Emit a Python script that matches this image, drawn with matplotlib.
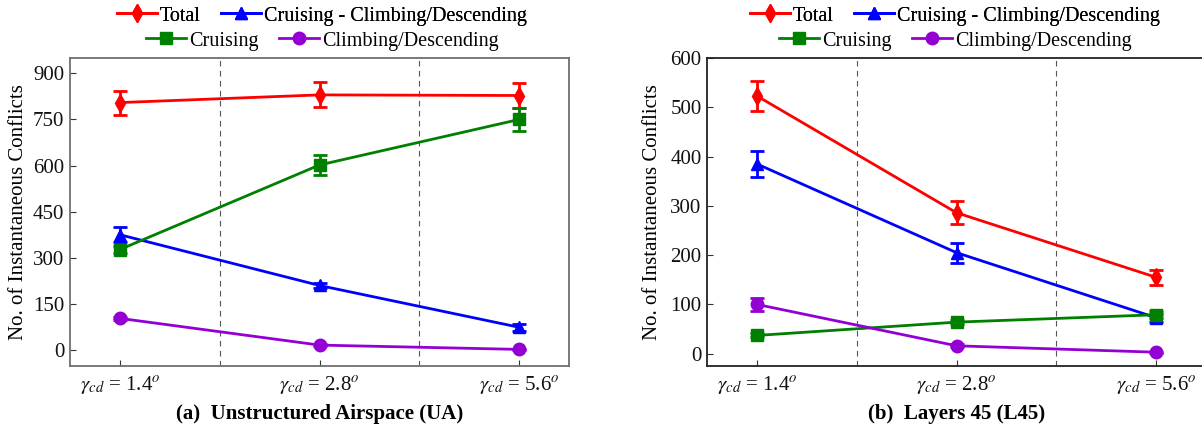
import matplotlib
matplotlib.use("Agg")
import matplotlib.pyplot as plt
from matplotlib.lines import Line2D

plt.rcParams['font.family'] = ['Liberation Serif', 'DejaVu Serif']
plt.rcParams['mathtext.fontset'] = 'stix'

# ---------------------------------------------------------------------------
# DATA
# ---------------------------------------------------------------------------
gammas = ["1.4", "2.8", "5.6"]
series_names = ["Total", "Cruising - Climbing/Descending", "Cruising", "Climbing/Descending"]

# (a) Unstructured Airspace
ua_total = [805, 830, 828]
ua_total_err = [39, 41, 41]
ua_cmcd = [375, 210, 74]
ua_cmcd_err = [25, 8, 12]
ua_cruise = [327, 602, 750]
ua_cruise_err = [12, 32, 38]
ua_climb = [103, 16, 2]
ua_climb_err = [4, 3, 1]

# (b) Layers 45
l45_total = [523, 286, 155]
l45_total_err = [31, 23, 15]
l45_cmcd = [385, 205, 73]
l45_cmcd_err = [26, 20, 8]
l45_cruise = [37, 64, 79]
l45_cruise_err = [4, 4, 7]
l45_climb = [100, 16, 3]
l45_climb_err = [13, 3, 1]

# ---------------------------------------------------------------------------
# STYLE
# ---------------------------------------------------------------------------
COLORS = ['#FF0000', '#0000FF', '#008000', '#9400D3']
MARKERS = ['d', '^', 's', 'o']
FS = 15


def draw_panel(ax, values, errors, ylim, yticks, spine_color):
    x = list(range(len(gammas)))
    for vals, errs, c, m in zip(values, errors, COLORS, MARKERS):
        ax.errorbar(x, vals, yerr=errs, color=c, marker=m, markersize=9,
                    lw=2, elinewidth=2, capsize=5, capthick=2, zorder=3)
    for xv in (0.5, 1.5):
        ax.axvline(xv, color='#555555', lw=0.8, ls=(0, (5, 4)), zorder=1)
    ax.set_xlim(-0.25, 2.25)
    ax.set_ylim(*ylim)
    ax.set_yticks(yticks)
    ax.set_xticks(x)
    ax.set_xticklabels([r'$\gamma_{cd}$ = ' + g + r'$^o$' for g in gammas])
    ax.tick_params(axis='both', direction='in', labelsize=FS, length=4,
                   top=False, right=False, colors='#333333',
                   labelcolor='#111111')
    ax.tick_params(axis='x', pad=6)
    ax.tick_params(axis='y', pad=4)
    for sp in ax.spines.values():
        sp.set_color(spine_color)
        sp.set_linewidth(1.3)
    ax.set_ylabel("No. of Instantaneous Conflicts", fontsize=FS)


def add_legend(fig, cx):
    handles = [Line2D([], [], color=c, marker=m, markersize=9, lw=2)
               for c, m in zip(COLORS, MARKERS)]
    kw = dict(frameon=False, fontsize=14.5, ncol=2, handlelength=2.0,
              handletextpad=0.15, columnspacing=1.0, loc='center',
              borderpad=0)
    l1 = fig.legend(handles[:2], series_names[:2],
                    bbox_to_anchor=(cx, 1 - 16 / 436), **kw)
    fig.legend(handles[2:], series_names[2:],
               bbox_to_anchor=(cx, 1 - 41 / 436), **kw)
    fig.add_artist(l1)


fig = plt.figure(figsize=(12.02, 4.36), dpi=100)
ax1 = fig.add_axes([70 / 1202, 70 / 436, 499 / 1202, 308 / 436])
ax2 = fig.add_axes([707 / 1202, 70 / 436, 499 / 1202, 308 / 436])

draw_panel(ax1, [ua_total, ua_cmcd, ua_cruise, ua_climb],
           [ua_total_err, ua_cmcd_err, ua_cruise_err, ua_climb_err],
           (-52, 950), [0, 150, 300, 450, 600, 750, 900], '#707070')
draw_panel(ax2, [l45_total, l45_cmcd, l45_cruise, l45_climb],
           [l45_total_err, l45_cmcd_err, l45_cruise_err, l45_climb_err],
           (-25, 600), [0, 100, 200, 300, 400, 500, 600], '#222222')

ax1.yaxis.set_label_coords(-0.085, 0.5)
ax2.yaxis.set_label_coords(-0.09, 0.5)

add_legend(fig, 322 / 1202)
add_legend(fig, 955 / 1202)

fig.text(320 / 1202, 1 - 414 / 436, "(a)  Unstructured Airspace (UA)",
         ha='center', va='center', fontsize=FS, fontweight='bold')
fig.text(957 / 1202, 1 - 414 / 436, "(b)  Layers 45 (L45)",
         ha='center', va='center', fontsize=FS, fontweight='bold')

fig.savefig("out.png", dpi=100, facecolor='white')
